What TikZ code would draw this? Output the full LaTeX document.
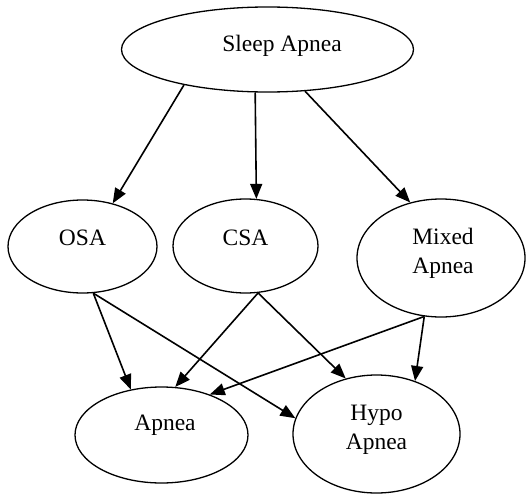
\documentclass[tikz,border=0pt]{standalone}
\usepackage{fontspec}
\setmainfont{Liberation Serif}
\usetikzlibrary{arrows.meta,shapes.geometric}
\tikzset{
  oval/.style={ellipse, draw, line width=1.3pt, inner sep=0pt},
  lbl/.style={font=\fontsize{23.5}{29}\selectfont, align=center, inner sep=0pt},
  conn/.style={line width=1.6pt, -{Triangle[length=15pt,width=12pt]}}
}
\begin{document}
\begin{tikzpicture}[x=1pt,y=-1pt]
\useasboundingbox (0,0) rectangle (527,495);
\node[oval, minimum width=292pt, minimum height=85pt] (sa) at (267.5,49.5) {};
\node[oval, minimum width=149pt, minimum height=93pt] (osa) at (82.5,246.5) {};
\node[oval, minimum width=145pt, minimum height=94pt] (csa) at (245.5,246) {};
\node[oval, minimum width=168pt, minimum height=118pt] (mix) at (441,258) {};
\node[oval, minimum width=173pt, minimum height=96pt] (apn) at (161.5,435) {};
\node[oval, minimum width=167pt, minimum height=118pt] (hyp) at (376.5,434) {};

\node[lbl, xshift=14.5pt, yshift=3.5pt] (saT) at (sa) {Sleep Apnea};
\node[lbl, yshift=9pt] (osaT) at (osa) {OSA};
\node[lbl, yshift=8pt] (csaT) at (csa) {CSA};
\node[lbl, xshift=2pt, yshift=4.5pt] (mixT) at (mix) {Mixed\\Apnea};
\node[lbl, xshift=3.5pt, yshift=9.5pt] (apnT) at (apn) {Apnea};
\node[lbl, yshift=4.5pt] (hypT) at (hyp) {Hypo\\Apnea};

\draw[conn] (sa.203) -- (osa.55.9);
\draw[conn] (sa.254.9) -- (csa.77.4);
\draw[conn] (sa.312) -- (mix.119.2);
\draw[conn] (osa.-77.3) -- (apn.124.4);
\draw[conn] (osa.-77.3) -- (hyp.169.9);
\draw[conn] (csa.-75.1) -- (apn.74.3);
\draw[conn] (csa.-75.1) -- (hyp.119.2);
\draw[conn] (mix.254.2) -- (apn.40.9);
\draw[conn] (mix.254.2) -- (hyp.54.1);
\end{tikzpicture}
\end{document}
